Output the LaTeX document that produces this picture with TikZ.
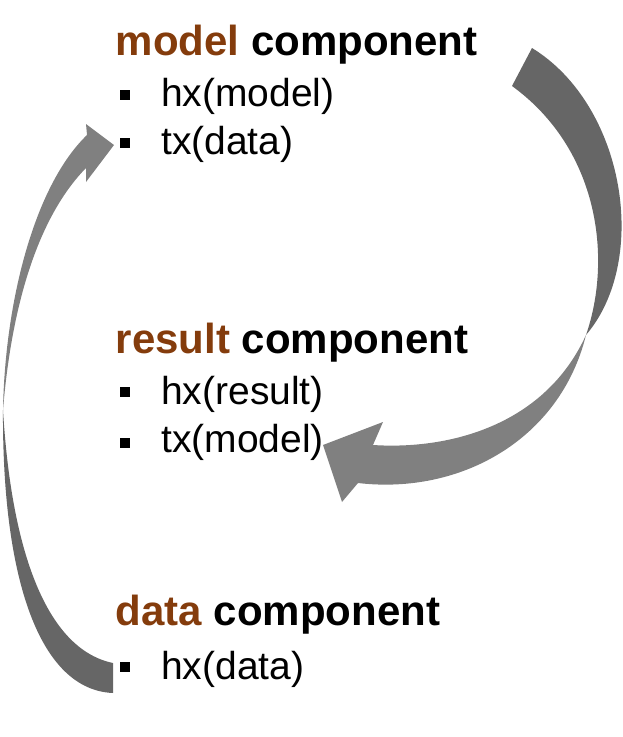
\documentclass[tikz,border=0pt]{standalone}
\usepackage{fontspec}
\setmainfont{Liberation Sans}
\definecolor{accent}{HTML}{843C0C}
\definecolor{arrowdark}{HTML}{666666}
\definecolor{arrowlight}{HTML}{808080}
\tikzset{
  titletext/.style={anchor=base west, inner sep=0pt, font=\fontsize{42}{48}\selectfont\bfseries},
  itemtext/.style={anchor=base west, inner sep=0pt, font=\fontsize{39}{44}\selectfont},
  bulletsq/.style={rectangle, fill=black, inner sep=0pt, minimum size=10.5pt},
  darkpart/.style={fill=arrowdark},
  lightpart/.style={fill=arrowlight},
}
\begin{document}
\begin{tikzpicture}[x=1pt,y=-1pt]
\useasboundingbox (0,0) rectangle (622,737);

% right arrow (model -> result)
\coordinate (rtail1) at (512,86);
\coordinate (rtail2) at (532,48);
\coordinate (rtwist) at (586,335);
\fill[darkpart] (rtail1) -- (rtail2)
  .. controls (625,105) and (650,260) .. (rtwist)
  .. controls (612,260) and (600,150) .. (rtail1) -- cycle;
\fill[lightpart] (rtwist) .. controls (560,440) and (460,495) .. (358,483)
  -- (342,502) -- (323,445) -- (383,422) -- (373,445)
  .. controls (450,450) and (545,425) .. (rtwist) -- cycle;

% left arrow (data -> model)
\coordinate (ltail1) at (113,663);
\coordinate (ltail2) at (113,693);
\coordinate (ltwist) at (3,410);
\fill[darkpart] (ltail1) -- (ltail2)
  .. controls (40,690) and (2,580) .. (ltwist)
  .. controls (12,560) and (50,650) .. (ltail1) -- cycle;
\fill[lightpart] (ltwist) .. controls (5,300) and (35,185) .. (87,135)
  -- (86,124) -- (114,145) -- (86,182) -- (86,168)
  .. controls (40,215) and (12,300) .. (ltwist) -- cycle;

% model component
\node[titletext] (mtitle) at (115.5,55) {\textcolor{accent}{model} component};
\node[bulletsq] (mb1) at (125,95) {};
\node[itemtext] (mi1) at (161,106) {hx(model)};
\node[bulletsq] (mb2) at (125,143) {};
\node[itemtext] (mi2) at (161,154) {tx(data)};

% result component
\node[titletext] (rtitle) at (115.5,353) {\textcolor{accent}{result} component};
\node[bulletsq] (rb1) at (125,392) {};
\node[itemtext] (ri1) at (161,404) {hx(result)};
\node[bulletsq] (rb2) at (125,443) {};
\node[itemtext] (ri2) at (161,452) {tx(model)};

% data component
\node[titletext] (dtitle) at (115.5,625) {\textcolor{accent}{data} component};
\node[bulletsq] (db1) at (125,667) {};
\node[itemtext] (di1) at (161,679) {hx(data)};
\end{tikzpicture}
\end{document}
